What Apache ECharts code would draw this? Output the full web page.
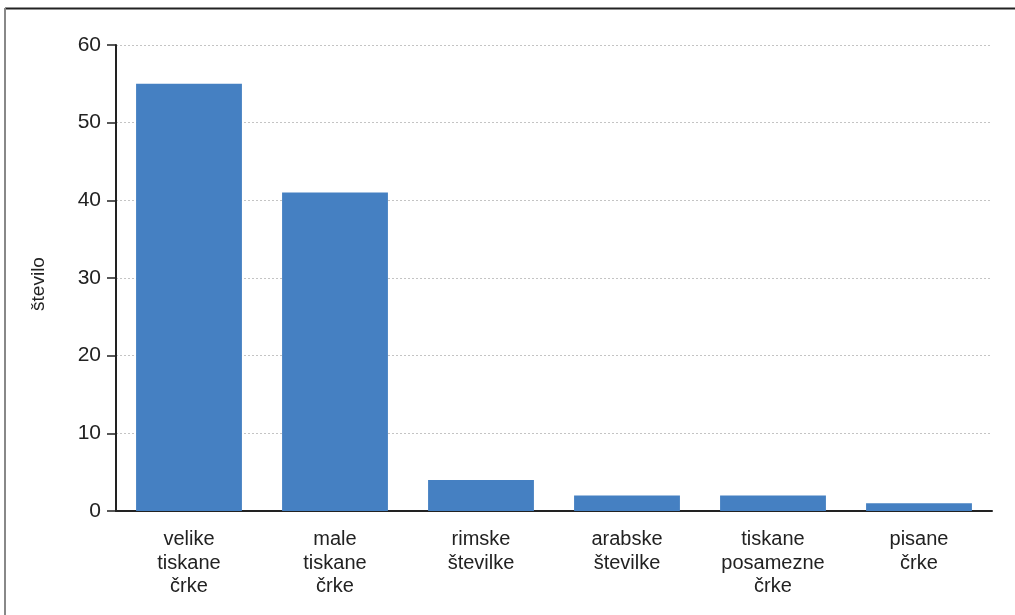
<!DOCTYPE html>
<html>
<head>
<meta charset="utf-8">
<script src="https://cdn.jsdelivr.net/npm/echarts@6/dist/echarts.min.js"></script>
<style>html,body{margin:0;padding:0;background:#fff;}#c{width:1015px;height:615px;}</style>
</head>
<body>
<div id="c"></div>
<script>
const categories = ["velike\ntiskane\nčrke", "male\ntiskane\nčrke", "rimske\nštevilke", "arabske\nštevilke", "tiskane\nposamezne\nčrke", "pisane\nčrke"];
const values = [55, 41, 4, 2, 2, 1];
const yTicks = [0, 10, 20, 30, 40, 50, 60];
const yLabel = "število";

const chart = echarts.init(document.getElementById('c'), null, {renderer: 'canvas'});
chart.setOption({
  animation: false,
  backgroundColor: '#ffffff',
  graphic: [
    {type: 'line', shape: {x1: 5, y1: 8.5, x2: 1015, y2: 8.5}, style: {stroke: '#222', lineWidth: 2}},
    {type: 'line', shape: {x1: 5, y1: 8, x2: 5, y2: 615}, style: {stroke: '#888', lineWidth: 2}}
  ],
  grid: {left: 116, right: 23, top: 45, bottom: 104, containLabel: false},
  xAxis: {
    type: 'category',
    data: categories,
    axisLine: {lineStyle: {color: '#222', width: 2}},
    axisTick: {show: false},
    axisLabel: {color: '#222', fontSize: 20, fontFamily: 'Liberation Sans, Arial, sans-serif', lineHeight: 23.5, margin: 17, interval: 0}
  },
  yAxis: {
    type: 'value',
    min: yTicks[0],
    max: yTicks[yTicks.length - 1],
    interval: 10,
    name: yLabel,
    nameLocation: 'middle',
    nameGap: 68,
    nameRotate: 90,
    nameTextStyle: {color: '#222', fontSize: 19, fontFamily: 'Liberation Sans, Arial, sans-serif', padding: [0, 12, 0, 0]},
    axisLine: {show: true, lineStyle: {color: '#222', width: 2}},
    axisTick: {show: true, length: 9, lineStyle: {color: '#222', width: 1.5}},
    axisLabel: {color: '#222', fontSize: 21, fontFamily: 'Liberation Sans, Arial, sans-serif', margin: 15},
    splitLine: {show: true, lineStyle: {color: '#c4c4c4', type: [2, 2], width: 1}}
  },
  series: [{
    type: 'bar',
    data: values,
    barWidth: '72.5%',
    itemStyle: {color: '#4580c2'}
  }]
});
</script>
</body>
</html>
